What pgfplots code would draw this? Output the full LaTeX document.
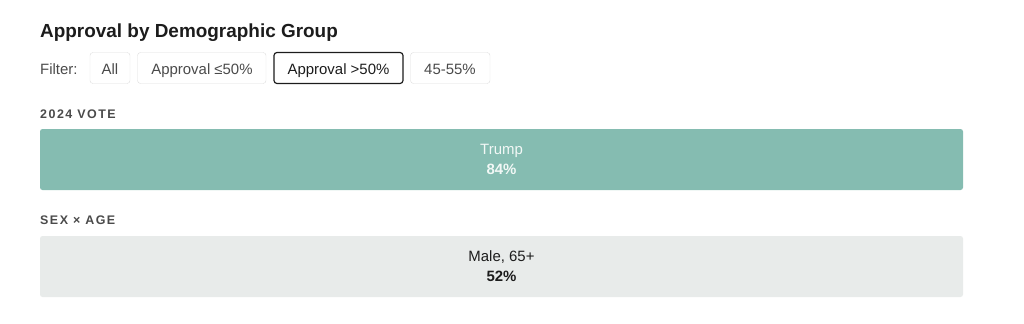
\documentclass[border=0pt]{standalone}
\usepackage{pgfplots}
\pgfplotsset{compat=1.18}
\usepackage{fontspec}
\setmainfont{Liberation Sans}
\newfontfamily\spaced[LetterSpace=12]{Liberation Sans}
\definecolor{teal}{HTML}{85BCB1}
\definecolor{lgray}{HTML}{E8EBEA}
\definecolor{ink}{HTML}{1C1C1C}
\definecolor{mid}{HTML}{4A4A4A}
\definecolor{bord}{HTML}{DCDCDC}
\definecolor{onteal}{HTML}{F2F8F6}
\begin{document}
\begin{tikzpicture}
\path[use as bounding box] (0bp,0bp) rectangle (1024bp,-324bp);
\begin{scope}[x=1bp,y=-1bp]
% title
\node[anchor=base west,text=ink,inner sep=0pt,font=\fontsize{19}{21}\selectfont\bfseries] at (40,37) {Approval by Demographic Group};
% filter row
\node[anchor=base west,text=mid,inner sep=0pt,font=\fontsize{15}{17}\selectfont] at (40,74) {Filter:};
\draw[bord,rounded corners=3] (90,52.5) rectangle (130,83.5);
\node[anchor=base,text=mid,inner sep=0pt,font=\fontsize{15}{17}\selectfont] at (110,74) {All};
\draw[bord,rounded corners=3] (137.5,52.5) rectangle (266,83.5);
\node[anchor=base,text=mid,inner sep=0pt,font=\fontsize{15}{17}\selectfont] at (202,74) {Approval ≤50\%};
\draw[ink,line width=1.2,rounded corners=3] (274,52.5) rectangle (403,83.5);
\node[anchor=base,text=ink,inner sep=0pt,font=\fontsize{15}{17}\selectfont] at (338.5,74) {Approval >50\%};
\draw[bord,rounded corners=3] (410.5,52.5) rectangle (490,83.5);
\node[anchor=base,text=mid,inner sep=0pt,font=\fontsize{15}{17}\selectfont] at (450,74) {45-55\%};
% section labels
\node[anchor=base west,text=mid,inner sep=0pt,font=\fontsize{12.5}{14}\spaced\bfseries] at (40,118) {2024 VOTE};
\node[anchor=base west,text=mid,inner sep=0pt,font=\fontsize{12.5}{14}\spaced\bfseries] at (40,224) {SEX × AGE};
\end{scope}
\begin{axis}[
  at={(40bp,-129bp)}, anchor=north west,
  width=923bp, height=168bp, scale only axis,
  xmin=0, xmax=1, ymin=129, ymax=297, y dir=reverse,
  hide axis, clip=false,
]
\addplot[xbar, bar width=61, bar shift=0pt, fill=teal, draw=none, rounded corners=2.5bp] coordinates {(1,159.5)};
\addplot[xbar, bar width=61, bar shift=0pt, fill=lgray, draw=none, rounded corners=2.5bp] coordinates {(1,266.5)};
\node[anchor=base,text=onteal,inner sep=0pt,font=\fontsize{15}{17}\selectfont] at (axis cs:0.5,154) {Trump};
\node[anchor=base,text=onteal,inner sep=0pt,font=\fontsize{15}{17}\selectfont\bfseries] at (axis cs:0.5,174.5) {84\%};
\node[anchor=base,text=ink,inner sep=0pt,font=\fontsize{15}{17}\selectfont] at (axis cs:0.5,261) {Male, 65+};
\node[anchor=base,text=ink,inner sep=0pt,font=\fontsize{15}{17}\selectfont\bfseries] at (axis cs:0.5,281) {52\%};
\end{axis}
\end{tikzpicture}
\end{document}
